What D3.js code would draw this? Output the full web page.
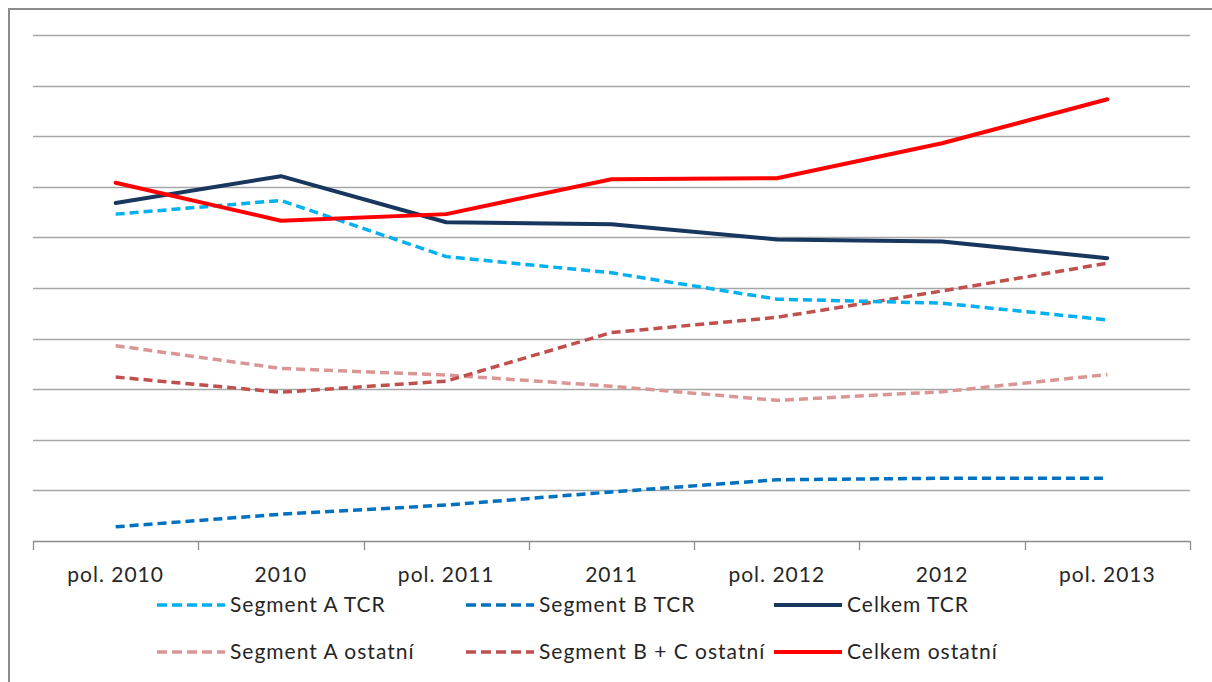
<!DOCTYPE html>
<html>
<head>
<meta charset="utf-8">
<script src="https://cdn.jsdelivr.net/npm/d3@7"></script>
<style>
  body { margin: 0; background: #fff; }
  text { font-family: Lato, "Open Sans", sans-serif; font-weight: 400; fill: #262626; letter-spacing: 1px; }
</style>
</head>
<body>
<div id="chart"></div>
<script>
// categories and series (0-100 scale)
var categories = ["pol. 2010", "2010", "pol. 2011", "2011", "pol. 2012", "2012", "pol. 2013"];
var segATcr   = [64.6, 67.3, 56.2, 53.0, 47.8, 47.0, 43.7];
var segBTcr   = [2.8, 5.3, 7.1, 9.7, 12.1, 12.4, 12.4];
var celkemTcr = [66.8, 72.1, 63.0, 62.6, 59.6, 59.2, 55.9];
var segAOst   = [38.6, 34.1, 32.8, 30.6, 27.8, 29.5, 32.9];
var segBCOst  = [32.4, 29.4, 31.6, 41.2, 44.2, 49.4, 54.9];
var celkemOst = [70.8, 63.3, 64.6, 71.5, 71.7, 78.6, 87.3];
var yTicks = [0, 10, 20, 30, 40, 50, 60, 70, 80, 90, 100];

var series = [
    {name: "Segment A TCR", values: segATcr, color: "#00B0F0", dash: "9,5", w: 3.5},
    {name: "Segment B TCR", values: segBTcr, color: "#0070C0", dash: "9,5", w: 3.5},
    {name: "Celkem TCR", values: celkemTcr, color: "#17375E", dash: null, w: 4},
    {name: "Segment A ostatní", values: segAOst, color: "#D99694", dash: "9,5", w: 3.5},
    {name: "Segment B + C ostatní", values: segBCOst, color: "#C0504D", dash: "9,5", w: 3.5},
    {name: "Celkem ostatní", values: celkemOst, color: "#FF0000", dash: null, w: 4}
];

var width = 1212, height = 682;
var plot = {left: 33, right: 1190, top: 35, bottom: 541};

var svg = d3.select("#chart").append("svg")
    .attr("width", width)
    .attr("height", height);

// outer frame
svg.append("rect")
    .attr("x", 9).attr("y", 9)
    .attr("width", 1220).attr("height", 700)
    .attr("fill", "none")
    .attr("stroke", "#8c8c8c")
    .attr("stroke-width", 2);

var x = d3.scalePoint().domain(categories).range([plot.left, plot.right]).padding(0.5);
var xBand = d3.scaleBand().domain(categories).range([plot.left, plot.right]);
var y = d3.scaleLinear().domain([0, 100]).range([plot.bottom, plot.top]);

// gridlines
svg.append("g")
    .selectAll("line")
    .data(yTicks.slice(1))
    .enter().append("line")
    .attr("x1", plot.left).attr("x2", plot.right)
    .attr("y1", function (d) { return Math.round(y(d)) + 0.5; })
    .attr("y2", function (d) { return Math.round(y(d)) + 0.5; })
    .attr("stroke", "#a6a6a6")
    .attr("stroke-width", 1.3);

// x axis line + ticks at category boundaries
var axisG = svg.append("g");
axisG.append("line")
    .attr("x1", plot.left).attr("x2", plot.right)
    .attr("y1", plot.bottom + 0.5).attr("y2", plot.bottom + 0.5)
    .attr("stroke", "#8c8c8c").attr("stroke-width", 1.3);
var bounds = categories.map(function (c) { return xBand(c); }).concat([plot.right]);
axisG.selectAll(".tick")
    .data(bounds)
    .enter().append("line")
    .attr("x1", function (d) { return Math.round(d) + 0.5; })
    .attr("x2", function (d) { return Math.round(d) + 0.5; })
    .attr("y1", plot.bottom).attr("y2", plot.bottom + 9)
    .attr("stroke", "#8c8c8c").attr("stroke-width", 1.3);
axisG.selectAll("text")
    .data(categories)
    .enter().append("text")
    .attr("x", function (d) { return x(d); })
    .attr("y", 582)
    .attr("text-anchor", "middle")
    .style("font-size", "21px")
    .text(String);

// lines
var line = d3.line()
    .x(function (d, i) { return x(categories[i]); })
    .y(function (d) { return y(d); });

var drawOrder = [3, 4, 0, 1, 2, 5];
svg.append("g")
    .selectAll("path")
    .data(drawOrder.map(function (i) { return series[i]; }))
    .enter().append("path")
    .attr("d", function (s) { return line(s.values); })
    .attr("fill", "none")
    .attr("stroke", function (s) { return s.color; })
    .attr("stroke-width", function (s) { return s.w; })
    .attr("stroke-dasharray", function (s) { return s.dash; })
    .attr("stroke-linejoin", "round")
    .attr("stroke-linecap", function (s) { return s.dash ? "butt" : "round"; });

// legend: 3 columns x 2 rows
var legCols = [157, 466, 774];
var legRows = [605, 652];
var leg = svg.append("g")
    .selectAll("g")
    .data(series)
    .enter().append("g")
    .attr("transform", function (s, i) {
        return "translate(" + legCols[i % 3] + "," + legRows[Math.floor(i / 3)] + ")";
    });
leg.append("line")
    .attr("x1", 0).attr("x2", 68)
    .attr("stroke", function (s) { return s.color; })
    .attr("stroke-width", function (s) { return s.w; })
    .attr("stroke-dasharray", function (s) { return s.dash ? "10,5" : null; });
leg.append("text")
    .attr("x", 73)
    .attr("y", 7)
    .style("font-size", "21px")
    .text(function (s) { return s.name; });
</script>
</body>
</html>
